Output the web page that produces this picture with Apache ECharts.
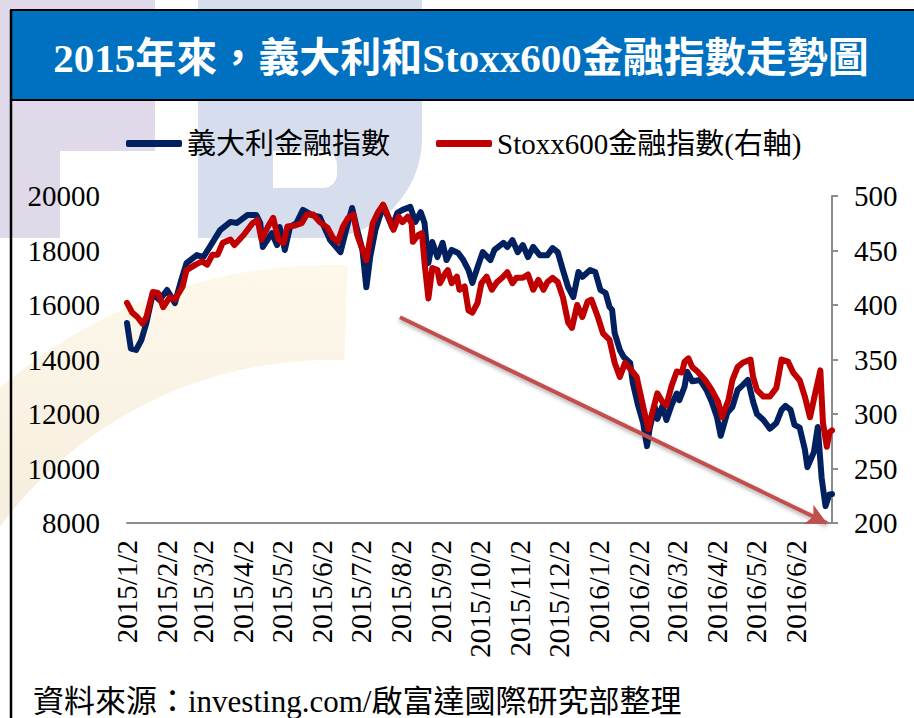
<!DOCTYPE html>
<html><head><meta charset="utf-8">
<script src="https://cdn.jsdelivr.net/npm/echarts@6.0.0/dist/echarts.min.js"></script>
<style>html,body{margin:0;padding:0;background:#fff;overflow:hidden;} #c{width:914px;height:718px;}</style>
</head><body><div id="c"></div>
<script>
const titleText = '2015年來，義大利和Stoxx600金融指數走勢圖';
const sourceText = '資料來源：investing.com/啟富達國際研究部整理';
const seriesNames = ['義大利金融指數', 'Stoxx600金融指數(右軸)'];
const xTickLabels = ['2015/1/2','2015/2/2','2015/3/2','2015/4/2','2015/5/2','2015/6/2','2015/7/2','2015/8/2','2015/9/2','2015/10/2','2015/11/2','2015/12/2','2016/1/2','2016/2/2','2016/3/2','2016/4/2','2016/5/2','2016/6/2'];

const italyDates = ['2015-01-02','2015-01-05','2015-01-09','2015-01-13','2015-01-17','2015-01-22','2015-01-27','2015-02-02','2015-02-08','2015-02-13','2015-02-17','2015-02-25','2015-03-02','2015-03-07','2015-03-15','2015-03-23','2015-03-28','2015-04-05','2015-04-12','2015-04-15','2015-04-17','2015-04-24','2015-04-28','2015-04-30','2015-05-04','2015-05-08','2015-05-13','2015-05-18','2015-05-25','2015-05-31','2015-06-08','2015-06-16','2015-06-21','2015-06-25','2015-06-29','2015-07-03','2015-07-06','2015-07-09','2015-07-13','2015-07-19','2015-07-26','2015-07-30','2015-08-03','2015-08-09','2015-08-13','2015-08-17','2015-08-20','2015-08-23','2015-08-26','2015-08-30','2015-09-03','2015-09-06','2015-09-10','2015-09-15','2015-09-19','2015-09-23','2015-09-26','2015-09-30','2015-10-04','2015-10-10','2015-10-13','2015-10-20','2015-10-23','2015-10-27','2015-10-31','2015-11-04','2015-11-08','2015-11-12','2015-11-17','2015-11-23','2015-11-27','2015-12-01','2015-12-05','2015-12-09','2015-12-13','2015-12-17','2015-12-20','2015-12-26','2015-12-30','2016-01-03','2016-01-07','2016-01-10','2016-01-12','2016-01-14','2016-01-18','2016-01-21','2016-01-26','2016-01-28','2016-02-01','2016-02-05','2016-02-08','2016-02-10','2016-02-14','2016-02-16','2016-02-20','2016-02-23','2016-02-27','2016-03-02','2016-03-04','2016-03-08','2016-03-10','2016-03-14','2016-03-20','2016-03-25','2016-03-29','2016-04-02','2016-04-05','2016-04-10','2016-04-14','2016-04-18','2016-04-22','2016-04-26','2016-04-30','2016-05-03','2016-05-08','2016-05-13','2016-05-18','2016-05-22','2016-05-25','2016-05-29','2016-06-01','2016-06-05','2016-06-09','2016-06-11','2016-06-16','2016-06-19','2016-06-22','2016-06-25','2016-06-28','2016-06-30'];
const italyValues = [15340,14400,14350,14700,15340,16440,16180,16550,16070,16920,17540,17830,17760,18130,18750,19050,19010,19300,19300,19010,18130,18640,18200,18860,18020,18860,19010,19490,19300,19230,18380,17940,18860,19560,18750,18020,16650,17760,18750,19650,18860,19380,19490,19600,19050,19410,19010,17540,18310,17760,18280,17650,18020,17910,17650,17280,16810,17390,17940,17650,18020,18280,18130,18380,17940,18200,17760,18130,17830,17830,18090,17940,17280,16660,16290,17210,17030,17280,17210,16550,16440,15930,15820,14970,14350,14090,13870,13140,12330,11670,10820,11460,12260,11820,12300,11780,12330,12750,12510,13000,13550,13200,13250,12880,12450,11900,11200,12040,12260,12880,13060,13250,12450,12000,11780,11460,11670,12150,12300,12150,11600,11500,10700,10050,10600,11520,9650,8620,9050,9060];

const stoxxDates = ['2015-01-02','2015-01-06','2015-01-10','2015-01-14','2015-01-17','2015-01-22','2015-01-26','2015-01-30','2015-02-04','2015-02-08','2015-02-14','2015-02-17','2015-02-24','2015-03-01','2015-03-05','2015-03-09','2015-03-13','2015-03-17','2015-03-23','2015-03-26','2015-04-02','2015-04-09','2015-04-13','2015-04-16','2015-04-21','2015-04-25','2015-04-29','2015-05-03','2015-05-06','2015-05-12','2015-05-17','2015-05-21','2015-05-26','2015-05-31','2015-06-06','2015-06-10','2015-06-14','2015-06-18','2015-06-22','2015-06-26','2015-06-29','2015-07-06','2015-07-11','2015-07-15','2015-07-19','2015-07-23','2015-07-27','2015-07-31','2015-08-03','2015-08-07','2015-08-10','2015-08-11','2015-08-15','2015-08-18','2015-08-20','2015-08-23','2015-08-26','2015-08-30','2015-09-01','2015-09-05','2015-09-07','2015-09-10','2015-09-14','2015-09-16','2015-09-20','2015-09-23','2015-09-26','2015-09-30','2015-10-03','2015-10-07','2015-10-11','2015-10-15','2015-10-19','2015-10-23','2015-10-27','2015-10-30','2015-11-04','2015-11-08','2015-11-12','2015-11-16','2015-11-20','2015-11-23','2015-11-27','2015-12-01','2015-12-05','2015-12-09','2015-12-12','2015-12-16','2015-12-20','2015-12-24','2015-12-27','2016-01-01','2016-01-05','2016-01-10','2016-01-14','2016-01-18','2016-01-22','2016-01-27','2016-01-31','2016-02-05','2016-02-09','2016-02-12','2016-02-16','2016-02-20','2016-02-23','2016-02-27','2016-03-02','2016-03-06','2016-03-08','2016-03-11','2016-03-14','2016-03-18','2016-03-24','2016-03-29','2016-04-03','2016-04-06','2016-04-11','2016-04-14','2016-04-18','2016-04-22','2016-04-28','2016-04-30','2016-05-03','2016-05-08','2016-05-13','2016-05-18','2016-05-22','2016-05-27','2016-05-31','2016-06-05','2016-06-09','2016-06-13','2016-06-17','2016-06-21','2016-06-23','2016-06-26','2016-06-28','2016-06-30'];
const stoxxValues = [402,393,389,383,389,412,411,398,407,405,417,432,437,440,437,446,446,457,460,455,464,475,478,460,472,480,460,457,472,473,475,483,483,476,471,462,458,472,480,483,464,441,475,485,492,481,469,481,476,481,475,458,464,466,439,406,434,432,420,429,432,420,426,414,417,395,393,402,420,426,414,421,425,430,420,425,425,428,414,423,414,421,425,421,407,384,379,400,389,403,405,389,374,368,347,334,347,340,334,307,286,301,319,311,308,326,339,338,348,351,343,339,331,322,311,297,313,331,343,347,350,334,322,316,316,324,350,348,338,331,316,297,319,340,292,270,283,285];

function parseTick(s) { const p = s.split('/').map(Number); return new Date(p[0], p[1] - 1, p[2]).getTime(); }
function parseISO(s) { const p = s.split('-').map(Number); return new Date(p[0], p[1] - 1, p[2]).getTime(); }
function fmtDate(v) { const d = new Date(v); return d.getFullYear() + '/' + (d.getMonth() + 1) + '/' + d.getDate(); }

const SERIF = "'Liberation Serif', 'Noto Sans CJK TC', serif";
const chart = echarts.init(document.getElementById('c'), null, { renderer: 'svg' });
const deg = Math.PI / 180;

const option = {
  animation: false,
  backgroundColor: '#ffffff',
  graphic: [
    { type: 'rect', z: -10, silent: true, shape: { x: 0, y: 0, width: 155, height: 151 }, style: { fill: '#E0D9E9' } },
    { type: 'rect', z: -10, silent: true, shape: { x: 0, y: 0, width: 60, height: 238 }, style: { fill: '#E0D9E9' } },
    { type: 'rect', z: -10, silent: true, shape: { x: 198, y: -20, width: 224, height: 258, r: [0, 0, 100, 0] }, style: { fill: '#D6DEEE' } },
    { type: 'rect', z: -9, silent: true, shape: { x: 273, y: 151, width: 64, height: 37, r: [0, 14, 14, 0] }, style: { fill: '#ffffff' } },
    { type: 'sector', z: -10, silent: true, shape: { cx: 330, cy: 770, r: 505, r0: 410, startAngle: -175 * deg, endAngle: -88 * deg, clockwise: true },
      style: { fill: { type: 'linear', x: 0, y: 0, x2: 0, y2: 1, colorStops: [{ offset: 0, color: '#FEF8EA' }, { offset: 1, color: '#EEE6D6' }] } } },
    { type: 'rect', z: 5, silent: true, shape: { x: 11, y: 11, width: 910, height: 89 }, style: { fill: '#0070C0' } },
    { type: 'line', z: 6, silent: true, shape: { x1: 10, y1: 10, x2: 914, y2: 10 }, style: { stroke: '#000', lineWidth: 2 } },
    { type: 'line', z: 6, silent: true, shape: { x1: 10, y1: 100, x2: 914, y2: 100 }, style: { stroke: '#000', lineWidth: 2 } },
    { type: 'line', z: 6, silent: true, shape: { x1: 11, y1: 10, x2: 11, y2: 718 }, style: { stroke: '#000', lineWidth: 2.5 } },
    { type: 'text', z: 7, silent: true, style: { x: 461, y: 58, text: titleText, fill: '#ffffff', font: 'bold 41px ' + SERIF, textAlign: 'center', textVerticalAlign: 'middle' } },
    { type: 'text', z: 7, silent: true, style: { x: 33, y: 686, text: sourceText, fill: '#000000', font: '31px ' + SERIF, textAlign: 'left', textVerticalAlign: 'top' } }
  ],
  legend: {
    left: 121, top: 124,
    icon: 'roundRect', itemWidth: 56, itemHeight: 7, itemGap: 46,
    textStyle: { fontFamily: SERIF, fontSize: 29, color: '#000' },
    data: seriesNames
  },
  grid: { left: 127, right: 82, top: 196, bottom: 195, containLabel: false },
  xAxis: {
    type: 'value',
    min: parseTick(xTickLabels[0]),
    max: new Date(2016, 5, 30).getTime(),
    axisLine: { show: true, lineStyle: { color: '#8C8C8C', width: 2 } },
    axisTick: { show: false },
    splitLine: { show: false },
    axisLabel: {
      customValues: xTickLabels.map(parseTick),
      formatter: fmtDate,
      rotate: 90, margin: 17,
      fontFamily: SERIF, fontSize: 29, color: '#000',
      showMinLabel: true, showMaxLabel: true, hideOverlap: false
    }
  },
  yAxis: [
    {
      type: 'value', min: 8000, max: 20000, interval: 2000, position: 'left',
      axisLine: { show: false }, axisTick: { show: false }, splitLine: { show: false },
      axisLabel: { formatter: v => String(v), fontFamily: SERIF, fontSize: 29, color: '#000', margin: 27 }
    },
    {
      type: 'value', min: 200, max: 500, interval: 50, position: 'right',
      axisLine: { show: true, lineStyle: { color: '#8C8C8C', width: 2 } },
      axisTick: { show: true, inside: false, length: 6, lineStyle: { color: '#8C8C8C', width: 2 } },
      splitLine: { show: false },
      axisLabel: { formatter: v => String(v), fontFamily: SERIF, fontSize: 29, color: '#000', margin: 22 }
    }
  ],
  series: [
    {
      name: seriesNames[0], type: 'line', yAxisIndex: 0, showSymbol: false, symbol: 'none',
      color: '#002060',
      lineStyle: { color: '#002060', width: 6, cap: 'round', join: 'round' },
      data: italyDates.map((d, i) => [parseISO(d), italyValues[i]]),
      z: 2,
      markLine: {
        silent: true, symbol: ['none', 'arrow'], symbolSize: [16, 20],
        label: { show: false }, emphasis: { disabled: true },
        lineStyle: { color: '#C0504D', width: 4, type: 'solid', shadowColor: 'rgba(0,0,0,0.35)', shadowBlur: 4, shadowOffsetY: 2 },
        data: [[ { coord: [new Date(2015, 7, 1).getTime(), 15550] }, { coord: [new Date(2016, 5, 26).getTime(), 8000] } ]]
      }
    },
    {
      name: seriesNames[1], type: 'line', yAxisIndex: 1, showSymbol: false, symbol: 'none',
      color: '#C00000',
      lineStyle: { color: '#C00000', width: 6, cap: 'round', join: 'round' },
      data: stoxxDates.map((d, i) => [parseISO(d), stoxxValues[i]]),
      z: 3
    }
  ]
};
chart.setOption(option);
</script>
</body></html>
